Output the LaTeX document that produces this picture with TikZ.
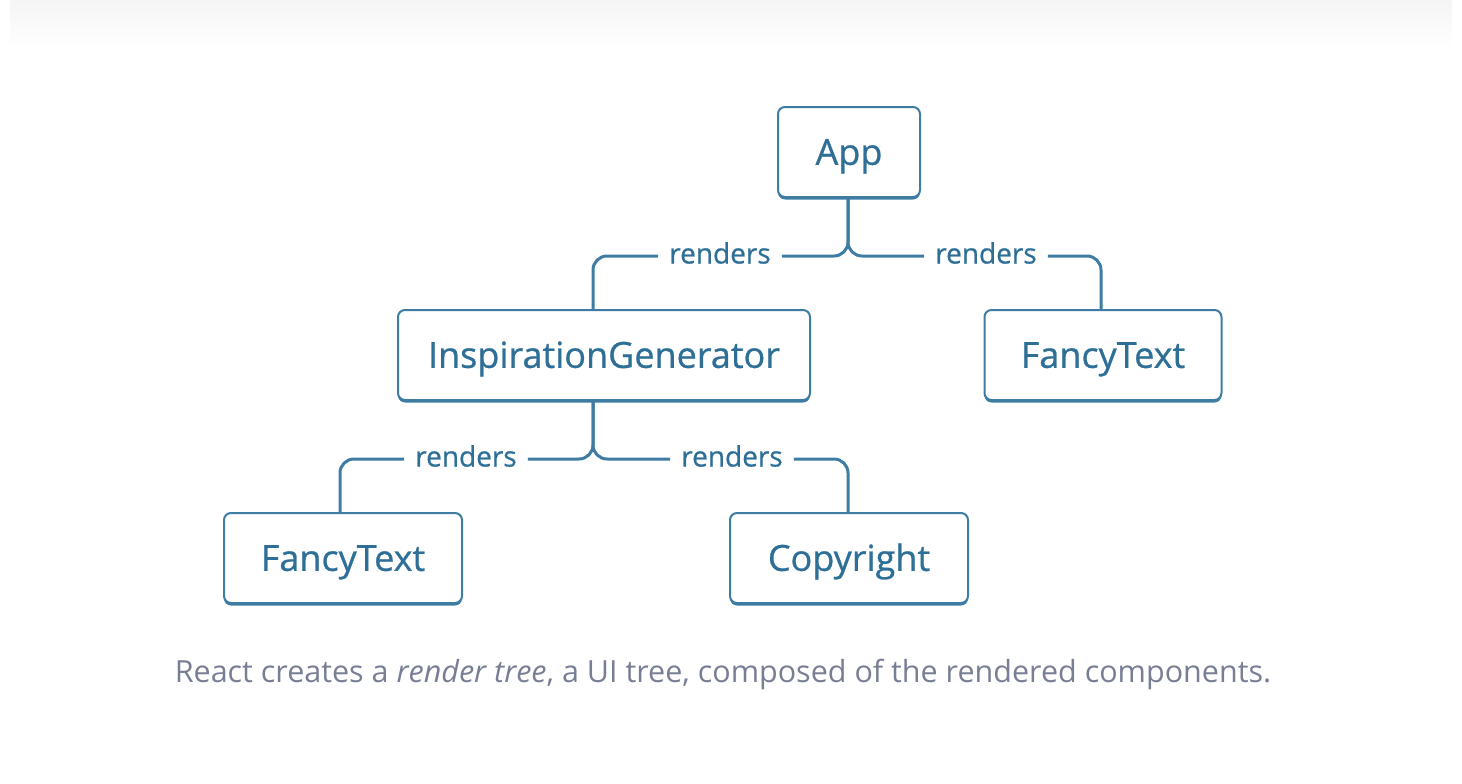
\documentclass[tikz,border=0pt]{standalone}
\usepackage{fontspec}
\setmainfont{Open Sans}
\newfontfamily\medfont{Open Sans}[FakeBold=0.7]
\usetikzlibrary{shadows}
\definecolor{boxc}{RGB}{62,124,163}
\definecolor{txtc}{RGB}{46,111,151}
\definecolor{capc}{RGB}{120,126,148}
\tikzset{
  comp/.style={draw=boxc, line width=2pt, rounded corners=7pt, fill=white,
    minimum height=90pt, text=txtc, font=\medfont\fontsize{36}{40}\selectfont,
    text height=25.7pt, text depth=0pt,
    drop shadow={shadow xshift=0pt, shadow yshift=-2.5pt, fill=boxc, opacity=1}},
  lbl/.style={text=txtc, font=\medfont\fontsize{28}{30}\selectfont, inner xsep=11pt, inner ysep=2pt,
    text height=15pt, text depth=0pt},
  conn/.style={draw=boxc, line width=3pt, rounded corners=14pt},
}
\begin{document}
\begin{tikzpicture}[x=1pt,y=-1pt]
\useasboundingbox (0,0) rectangle (1462,784);
\shade[top color=black!4, bottom color=white] (10,0) rectangle (1452,48);
% nodes
\node[comp, minimum width=142pt] (app) at (849,152) {App};
\node[comp, minimum width=412pt] (ig) at (604,355) {InspirationGenerator};
\node[comp, minimum width=237pt] (ftr) at (1103,355) {FancyText};
\node[comp, minimum width=238pt] (ftl) at (343,558) {FancyText};
\node[comp, minimum width=238pt] (cr) at (849,558) {Copyright};
% labels
\node[lbl] (r1) at (720,256) {renders};
\node[lbl] (r2) at (986,256) {renders};
\node[lbl] (r3) at (466,459) {renders};
\node[lbl] (r4) at (732,459) {renders};
% anchor points
\coordinate (appb) at (app.south -| 848,0);
\coordinate (igt) at (ig.north -| 593,0);
\coordinate (igb) at (ig.south -| 593,0);
\coordinate (ftrt) at (ftr.north -| 1101,0);
\coordinate (ftlt) at (ftl.north -| 340,0);
\coordinate (crt) at (cr.north -| 848,0);
% connectors
\draw[conn] (appb) |- (r1.east);
\draw[conn] (r1.west) -| (igt);
\draw[conn] (appb) |- (r2.west);
\draw[conn] (r2.east) -| (ftrt);
\draw[conn] (igb) |- (r3.east);
\draw[conn] (r3.west) -| (ftlt);
\draw[conn] (igb) |- (r4.west);
\draw[conn] (r4.east) -| (crt);
% caption
\node[text=capc, font=\fontsize{30.5}{34}\selectfont] (cap) at (723,674) {React creates a \textit{render tree}, a UI tree, composed of the rendered components.};
\end{tikzpicture}
\end{document}
